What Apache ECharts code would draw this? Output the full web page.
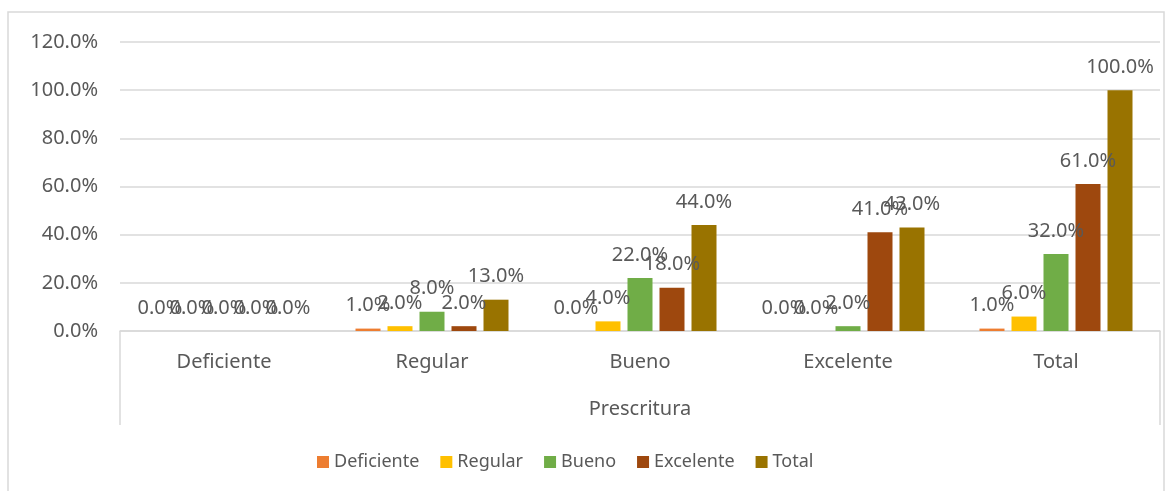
<!DOCTYPE html>
<html>
<head>
<meta charset="utf-8">
<script src="https://cdn.jsdelivr.net/npm/echarts@6/dist/echarts.min.js"></script>
<style>
  html, body { margin: 0; padding: 0; background: #fff; }
  #main { width: 1173px; height: 491px; }
</style>
</head>
<body>
<div id="main"></div>
<script>
var categories = ['Deficiente', 'Regular', 'Bueno', 'Excelente', 'Total'];
var seriesNames = ['Deficiente', 'Regular', 'Bueno', 'Excelente', 'Total'];
var deficiente = [0, 1, 0, 0, 1];
var regular = [0, 2, 4, 0, 6];
var bueno = [0, 8, 22, 2, 32];
var excelente = [0, 2, 18, 41, 61];
var total = [0, 13, 44, 43, 100];
var colors = ['#ED7D31', '#FFC000', '#70AD47', '#9E480E', '#997300'];

var FONT = '"Noto Sans", sans-serif';
var TXT = '#595959';
var LINE = '#d9d9d9';
var gridLeft = 120, gridRight = 13, gridTop = 42, gridBottom = 160;

var chart = echarts.init(document.getElementById('main'));

var values = [deficiente, regular, bueno, excelente, total];
var series = [];
values.forEach(function (data, i) {
  series.push({
    name: seriesNames[i],
    type: 'bar',
    data: data,
    barWidth: 25,
    barGap: '28%',
    itemStyle: { color: colors[i] },
    label: {
      show: true,
      position: 'top',
      distance: 13,
      color: TXT,
      fontFamily: FONT,
      fontSize: 20,
      formatter: function (p) { return p.value.toFixed(1) + '%'; }
    }
  });
});

var option = {
  backgroundColor: '#fff',
  animation: false,
  textStyle: { fontFamily: FONT },
  grid: { left: gridLeft, right: gridRight, top: gridTop, bottom: gridBottom },
  legend: {
    data: seriesNames,
    left: 312,
    top: 448,
    itemWidth: 12,
    itemHeight: 12,
    itemGap: 21,
    icon: 'rect',
    textStyle: { color: TXT, fontSize: 18, fontFamily: FONT }
  },
  xAxis: {
    type: 'category',
    data: categories,
    name: 'Prescritura',
    nameLocation: 'middle',
    nameGap: 68,
    nameTextStyle: { color: TXT, fontSize: 20, fontFamily: FONT },
    axisLine: { lineStyle: { color: LINE, width: 1.5 } },
    axisTick: { show: false },
    axisLabel: { color: TXT, fontSize: 20, fontFamily: FONT, margin: 21 }
  },
  yAxis: {
    type: 'value',
    min: 0,
    max: 120,
    interval: 20,
    axisLine: { show: false },
    axisTick: { show: false },
    splitLine: { lineStyle: { color: LINE, width: 1.5 } },
    axisLabel: {
      color: TXT, fontSize: 20, fontFamily: FONT, margin: 22,
      formatter: function (v) { return v.toFixed(1) + '%'; }
    }
  },
  graphic: [
    {
      type: 'rect',
      shape: { x: 8, y: 12, width: 1156, height: 520 },
      style: { fill: null, stroke: LINE, lineWidth: 1.5 },
      silent: true, z: -1
    },
    {
      type: 'line',
      shape: { x1: gridLeft, y1: 491 - gridBottom, x2: gridLeft, y2: 425 },
      style: { stroke: LINE, lineWidth: 1.5 }
    },
    {
      type: 'line',
      shape: { x1: 1173 - gridRight, y1: 491 - gridBottom, x2: 1173 - gridRight, y2: 425 },
      style: { stroke: LINE, lineWidth: 1.5 }
    }
  ],
  series: series
};
chart.setOption(option);
</script>
</body>
</html>
